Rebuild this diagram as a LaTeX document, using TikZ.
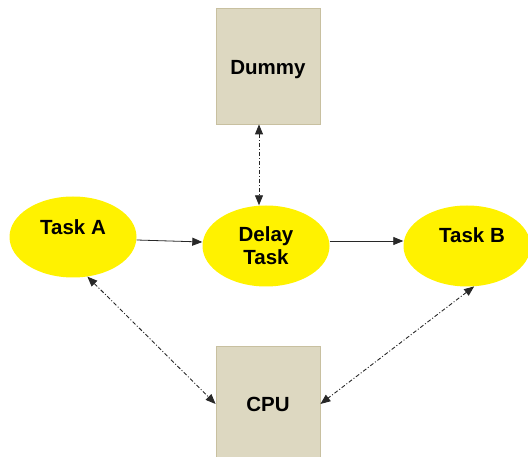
\documentclass[tikz,border=0pt]{standalone}
\usepackage{fontspec}
\setmainfont{Liberation Sans}
\usepackage{tikz}
\usetikzlibrary{arrows.meta,positioning,shapes.geometric}

\definecolor{boxtan}{RGB}{221,216,193}
\definecolor{boxedge}{RGB}{200,192,160}
\definecolor{linegray}{RGB}{40,40,40}

\begin{document}
\begin{tikzpicture}[x=1pt, y=-1pt, >={Triangle[length=10pt,width=8pt]},
  font=\fontsize{20.5}{23}\selectfont\bfseries]
  \tikzstyle{unit}=[draw=boxedge, fill=boxtan, line width=0.8pt, minimum width=104pt, minimum height=116pt, inner sep=0pt]
  \tikzstyle{task}=[ellipse, fill=yellow, minimum width=127pt, minimum height=81pt, inner sep=0pt, align=center]
  \tikzstyle{link}=[->, linegray, line width=0.8pt]
  \tikzstyle{share}=[<->, linegray, line width=0.9pt, dash pattern=on 4pt off 2pt on 1pt off 2pt]
  \useasboundingbox (0,0) rectangle (528,457);
  \node[unit] (dummy) at (268,66) {};
  \node at (268,70) {Dummy};
  \node[unit] (cpu) at (268,404) {};
  \node at (268,404) {CPU};
  \node[task, label={[yshift=10pt]center:Task A}] (taskA) at (73,237) {};
  \node[task] (delay) at (266,246) {Delay\\Task};
  \node[task, label={[xshift=5pt, yshift=11pt]center:Task B}] (taskB) at (467,246) {};
  \draw[link] ([yshift=-3pt]taskA.east) -- ([yshift=4pt]delay.west);
  \draw[link] ([yshift=5pt]delay.east) -- ([yshift=5pt]taskB.west);
  \draw[share] ([xshift=-9pt]dummy.south) -- ([xshift=-7pt]delay.north);
  \draw[share] (taskA.-70) -- (cpu.west);
  \draw[share] (taskB.-80) -- (cpu.east);
\end{tikzpicture}
\end{document}
